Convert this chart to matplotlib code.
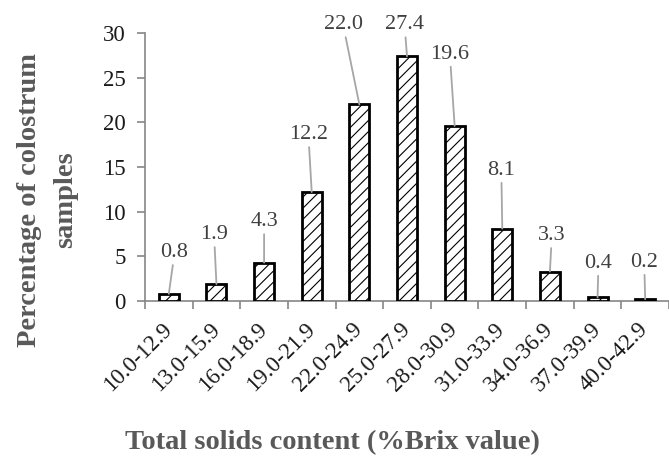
import matplotlib
matplotlib.use("Agg")
import matplotlib.pyplot as plt
import numpy as np

categories = ["10.0-12.9", "13.0-15.9", "16.0-18.9", "19.0-21.9", "22.0-24.9",
              "25.0-27.9", "28.0-30.9", "31.0-33.9", "34.0-36.9", "37.0-39.9", "40.0-42.9"]
values = [0.8, 1.9, 4.3, 12.2, 22.0, 27.4, 19.6, 8.1, 3.3, 0.4, 0.2]
value_labels = ["0.8", "1.9", "4.3", "12.2", "22.0", "27.4", "19.6", "8.1", "3.3", "0.4", "0.2"]
# callout label positions (data coords)
label_x = [0.12, 0.95, 2.0, 2.93, 3.66, 4.95, 5.9, 6.98, 8.04, 9.02, 9.98]
label_y = [5.4, 7.4, 8.85, 18.6, 30.9, 30.9, 27.6, 14.6, 7.3, 4.2, 4.3]
yticks = [0, 5, 10, 15, 20, 25, 30]

plt.rcParams['font.family'] = ['Liberation Serif', 'DejaVu Serif']
plt.rcParams['hatch.color'] = '#404040'
plt.rcParams['hatch.linewidth'] = 0.8

W, H = 669, 459
fig = plt.figure(figsize=(W/100, H/100), dpi=100)
ax = fig.add_axes([145/W, (H-301)/H, (W-145)/W, 268/H])

x = np.arange(len(categories))
ax.bar(x, values, width=0.42, color='white', edgecolor='black', linewidth=2.0,
       hatch='///', zorder=3)

for i in range(len(values)):
    ax.annotate(value_labels[i], xy=(x[i], values[i]), xytext=(label_x[i], label_y[i]),
                ha='center', va='center', fontsize=16, color='#404040',
                annotation_clip=False,
                arrowprops=dict(arrowstyle='-', color='#a6a6a6', lw=1.3,
                                shrinkA=0, shrinkB=0))

ax.set_xlim(-0.5, -0.5 + (W-145)/48.1)
ax.set_ylim(0, 30)
ax.set_yticks(yticks)
ax.set_yticklabels([str(v) for v in yticks], fontsize=16.5, color='#1a1a1a')
ax.set_xticks(x)
ax.set_xticklabels(categories, fontsize=16.5, color='#1a1a1a', rotation=45,
                   ha='right', va='center', rotation_mode='anchor')
ax.set_xticks(np.arange(-0.5, len(categories), 1.0), minor=True)
ax.tick_params(axis='x', which='major', length=0, pad=18)
ax.tick_params(axis='x', which='minor', length=6, width=1.2, color='#868686', direction='out')
ax.tick_params(axis='y', length=6, width=1.2, color='#868686', direction='out', pad=8)

for s in ['top', 'right']:
    ax.spines[s].set_visible(False)
for s in ['left', 'bottom']:
    ax.spines[s].set_color('#868686')
    ax.spines[s].set_linewidth(1.2)

fig.text(332/W, 1 - 443/H, "Total solids content (%Brix value)", ha='center', va='center',
         fontsize=20.5, fontweight='bold', color='#595959')
fig.text(30/W, 1 - 200/H, "Percentage of colostrum", ha='center', va='center',
         rotation=90, fontsize=20.5, fontweight='bold', color='#595959')
fig.text(66/W, 1 - 200/H, "samples", ha='center', va='center',
         rotation=90, fontsize=20.5, fontweight='bold', color='#595959')

fig.savefig("out.png", dpi=100)
